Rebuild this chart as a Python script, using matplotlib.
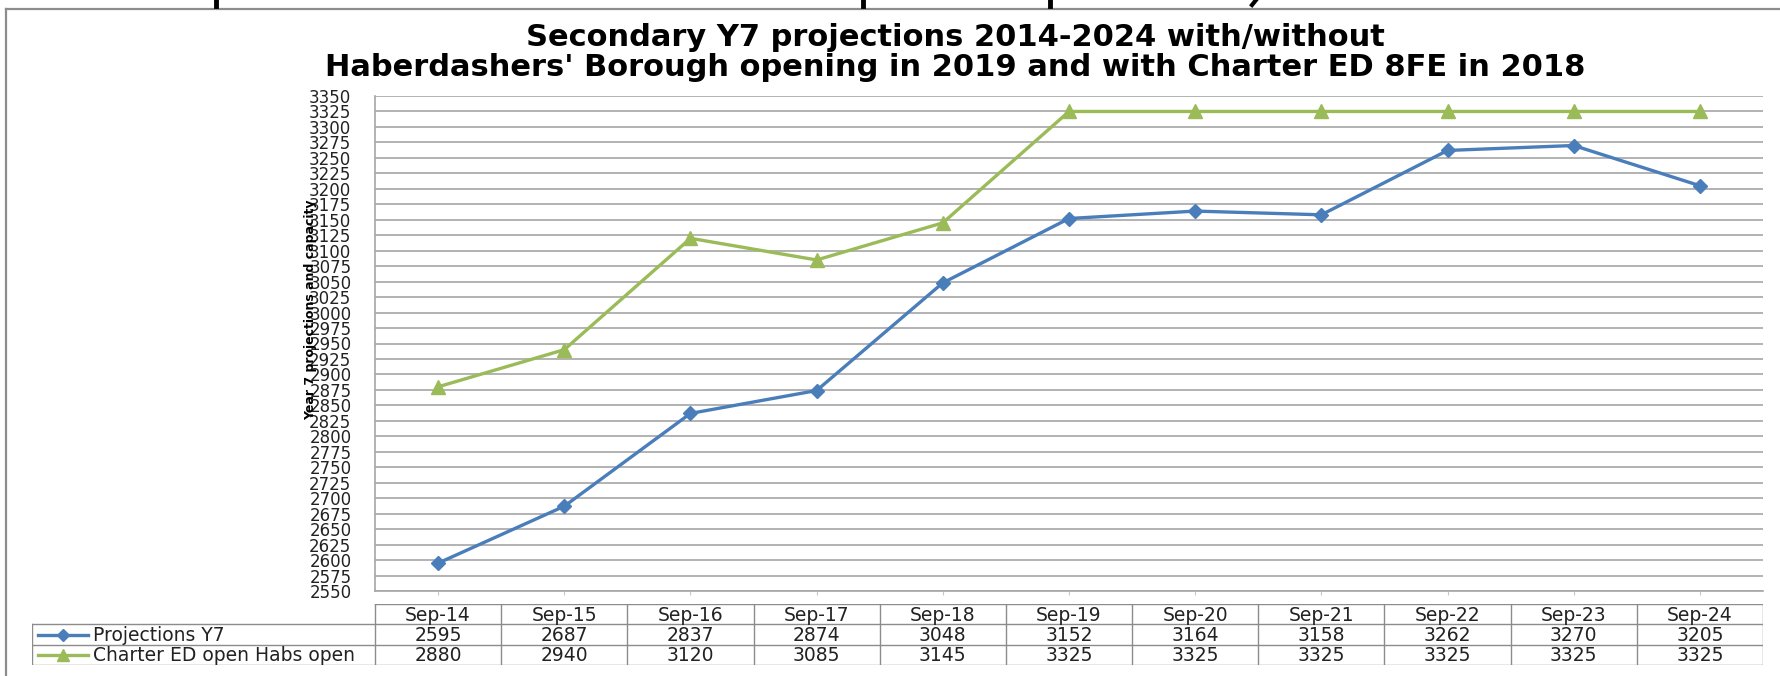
import numpy as np
import matplotlib
matplotlib.use("Agg")
import matplotlib.pyplot as plt
from matplotlib.lines import Line2D

# data
categories = ["Sep-14", "Sep-15", "Sep-16", "Sep-17", "Sep-18", "Sep-19",
              "Sep-20", "Sep-21", "Sep-22", "Sep-23", "Sep-24"]
projections_y7 = [2595, 2687, 2837, 2874, 3048, 3152, 3164, 3158, 3262, 3270, 3205]
charter_habs = [2880, 2940, 3120, 3085, 3145, 3325, 3325, 3325, 3325, 3325, 3325]
series_names = ["Projections Y7", "Charter ED open Habs open"]
title_lines = ["Secondary Y7 projections 2014-2024 with/without",
               "Haberdashers' Borough opening in 2019 and with Charter ED 8FE in 2018"]
y_label = "Year 7 projections and capacity"

BLUE = "#4a7ebb"
GREEN = "#9bbb59"
GRID = "#a6a6a6"
TXT = "#222222"

W, H = 1780, 676
plt.rcParams['font.family'] = ['DejaVu Sans']
fig = plt.figure(figsize=(W / 100, H / 100), dpi=100)


def fx(px):
    return px / W


def fy(py):
    return 1 - py / H


# chart frame (cropped slide)
fig.add_artist(Line2D([fx(6), fx(6)], [0, fy(9)], color="#8c8c8c", lw=1.6))
fig.add_artist(Line2D([fx(6), 1], [fy(9), fy(9)], color="#8c8c8c", lw=1.6))
# bits of the cut-off slide heading above
for xp in (216, 863, 1050):
    fig.add_artist(Line2D([fx(xp), fx(xp)], [1, fy(6)], color="black", lw=3.5))
fig.add_artist(Line2D([fx(1256), fx(1252)], [1, fy(5)], color="black", lw=3))

# title
fig.text(fx(955), fy(46), title_lines[0], ha="center", va="baseline",
         fontsize=22, fontweight="bold", color="black")
fig.text(fx(955), fy(76), title_lines[1], ha="center", va="baseline",
         fontsize=22, fontweight="bold", color="black")

# main plot
left, right, top, bottom = 375, 1763, 96, 591
ax = fig.add_axes([fx(left), fy(bottom), fx(right - left), (bottom - top) / H])
x = np.arange(len(categories))
ax.plot(x, projections_y7, color=BLUE, lw=2.4, marker="D", ms=7,
        markerfacecolor=BLUE, markeredgecolor=BLUE)
ax.plot(x, charter_habs, color=GREEN, lw=2.4, marker="^", ms=10,
        markerfacecolor=GREEN, markeredgecolor=GREEN)
ax.set_xlim(-0.5, len(categories) - 0.5)
ax.set_ylim(2550, 3350)
ax.set_yticks(np.arange(2550, 3351, 25))
ax.yaxis.grid(True, color=GRID, lw=1.2)
ax.set_axisbelow(True)
ax.set_xticks(x)
ax.set_xticklabels([])
ax.tick_params(axis="x", direction="out", length=3, color="#c8c8c8")
ax.tick_params(axis="y", length=0, pad=17, labelsize=12, labelcolor=TXT)
for s in ("top", "right"):
    ax.spines[s].set_visible(False)
for s in ("left", "bottom"):
    ax.spines[s].set_color(GRID)
    ax.spines[s].set_linewidth(1.2)

fig.text(fx(311), fy(310), y_label, rotation=90, ha="center", va="center",
         fontsize=9, fontweight="bold", color="black")

# data table under the chart
t_left, t_top, t_bottom = 32, 604, 665
col_px = (right - left) / len(categories)
x0 = -0.5 - (left - t_left) / col_px
tax = fig.add_axes([fx(t_left), fy(t_bottom), fx(right - t_left), (t_bottom - t_top) / H])
tax.set_xlim(x0, len(categories) - 0.5)
tax.set_ylim(3, 0)
tax.axis("off")
lc = dict(color="#8c8c8c", lw=1.0)
tax.plot([-0.5, len(categories) - 0.5], [0, 0], **lc)
for r in (1, 2, 3):
    tax.plot([x0, len(categories) - 0.5], [r, r], **lc)
tax.plot([x0, x0], [1, 3], **lc)
for b in np.arange(len(categories) + 1) - 0.5:
    tax.plot([b, b], [0, 3], **lc)

fs = 13.5
for i, c in enumerate(categories):
    tax.text(i, 0.55, c, ha="center", va="center", fontsize=fs, color=TXT)
    tax.text(i, 1.55, str(projections_y7[i]), ha="center", va="center", fontsize=fs, color=TXT)
    tax.text(i, 2.55, str(charter_habs[i]), ha="center", va="center", fontsize=fs, color=TXT)

# legend keys inside the table
k0 = x0 + (38 - t_left) / col_px
k1 = x0 + (88 - t_left) / col_px
km = (k0 + k1) / 2
tx = x0 + (93 - t_left) / col_px
tax.plot([k0, k1], [1.5, 1.5], color=BLUE, lw=2.4)
tax.plot([km], [1.5], marker="D", ms=6, color=BLUE)
tax.plot([k0, k1], [2.5, 2.5], color=GREEN, lw=2.4)
tax.plot([km], [2.5], marker="^", ms=9, color=GREEN)
tax.text(tx, 1.55, series_names[0], ha="left", va="center", fontsize=fs, color=TXT)
tax.text(tx, 2.55, series_names[1], ha="left", va="center", fontsize=fs, color=TXT)

fig.savefig("out.png", dpi=100)
